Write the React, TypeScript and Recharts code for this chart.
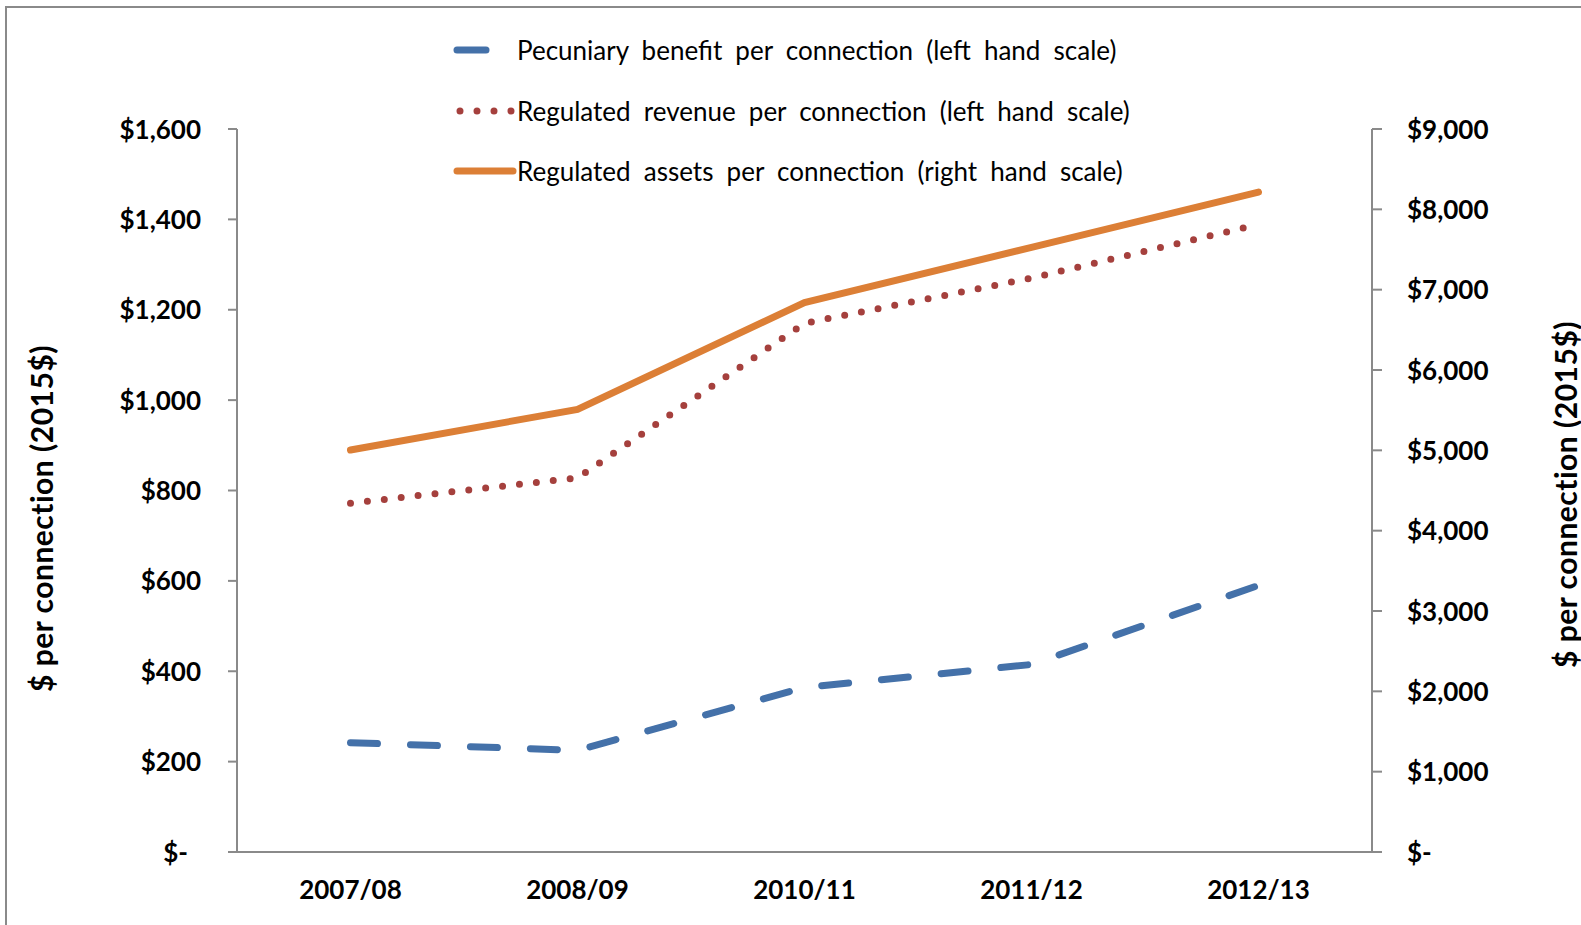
import { LineChart, Line, XAxis, YAxis } from "recharts";

const CATEGORIES = ["2007/08", "2008/09", "2010/11", "2011/12", "2012/13"];
const PECUNIARY = [242, 225, 364, 415, 590];
const REVENUE = [772, 828, 1170, 1270, 1389];
const ASSETS = [5004, 5510, 6839, 7527, 8215];

const LEFT_TICKS = [0, 200, 400, 600, 800, 1000, 1200, 1400, 1600];
const RIGHT_TICKS = [0, 1000, 2000, 3000, 4000, 5000, 6000, 7000, 8000, 9000];

const LEGEND_LABELS = [
  "Pecuniary benefit per connection (left hand scale)",
  "Regulated revenue per connection (left hand scale)",
  "Regulated assets per connection (right hand scale)",
];
const AXIS_TITLE = "$ per connection (2015$)";

const BLUE = "#4471a9";
const RED = "#a5403d";
const ORANGE = "#dc7f36";
const AXIS = "#8a8a8a";
const FONT = "Lato, 'Open Sans', sans-serif";

// boundary ticks like excel (between categories), labels sit in band centres
const BOUNDARY_TICKS = CATEGORIES.map((_, i) => i).concat(CATEGORIES.length);
const CENTER_TICKS = CATEGORIES.map((_, i) => i + 0.5);

const data = CATEGORIES.map((cat, i) => ({
  pos: i + 0.5,
  cat,
  pecuniary: PECUNIARY[i],
  revenue: REVENUE[i],
  assets: ASSETS[i],
}));

const money = (v: number) => (v === 0 ? "$-" : `$${v.toLocaleString("en-US")}`);

function LeftTick(props: any) {
  const { x, y, payload } = props;
  const v = payload.value as number;
  return (
    <text
      x={v === 0 ? x - 13 : x}
      y={y}
      dy={9.5}
      textAnchor="end"
      fill="#000"
      fontFamily={FONT}
      fontWeight={700}
      fontSize={26}
    >
      {money(v)}
    </text>
  );
}

function RightTick(props: any) {
  const { x, y, payload } = props;
  return (
    <text x={x} y={y} dy={9.5} textAnchor="start" fill="#000" fontFamily={FONT} fontWeight={700} fontSize={26}>
      {money(payload.value)}
    </text>
  );
}

function CatTick(props: any) {
  const { x, y, payload } = props;
  const label = CATEGORIES[Math.floor(payload.value)] ?? "";
  return (
    <text x={x} y={y} dy={46} textAnchor="middle" fill="#000" fontFamily={FONT} fontWeight={700} fontSize={26}>
      {label}
    </text>
  );
}

function axisTitle(dx: number, dy: number) {
  return (p: any) => {
    const vb = p.viewBox;
    const cx = vb.x + dx;
    const cy = vb.y + vb.height / 2 + dy;
    return (
      <text
        x={cx}
        y={cy}
        transform={`rotate(-90 ${cx} ${cy})`}
        textAnchor="middle"
        dominantBaseline="central"
        fill="#000"
        fontFamily={FONT}
        fontWeight={700}
        fontSize={30}
        letterSpacing={0.5}
      >
        {AXIS_TITLE}
      </text>
    );
  };
}

function LegendRow({ idx, top }: { idx: number; top: number }) {
  return (
    <div style={{ position: "absolute", left: 450, top: top - 16, height: 32, display: "flex", alignItems: "center" }}>
      <svg width={67} height={32} style={{ display: "block" }}>
        {idx === 0 && (
          <line x1={7} y1={16} x2={36} y2={16} stroke={BLUE} strokeWidth={7} strokeLinecap="round" />
        )}
        {idx === 1 && (
          <line
            x1={10}
            y1={16}
            x2={62}
            y2={16}
            stroke={RED}
            strokeWidth={7}
            strokeLinecap="round"
            strokeDasharray="0 17"
          />
        )}
        {idx === 2 && (
          <line x1={7} y1={16} x2={63} y2={16} stroke={ORANGE} strokeWidth={7} strokeLinecap="round" />
        )}
      </svg>
      <span
        style={{
          fontFamily: FONT,
          fontSize: 26,
          wordSpacing: 6.5,
          color: "#000",
          whiteSpace: "nowrap",
          lineHeight: "32px",
        }}
      >
        {LEGEND_LABELS[idx]}
      </span>
    </div>
  );
}

export default function App() {
  return (
    <div
      style={{
        position: "absolute",
        left: 0,
        top: 0,
        width: 1581,
        height: 925,
        overflow: "hidden",
        background: "#fff",
      }}
    >
      <div
        style={{
          position: "absolute",
          left: 5,
          top: 6,
          width: 2000,
          height: 2000,
          border: `2px solid ${AXIS}`,
        }}
      />
      <div style={{ position: "absolute", left: 0, top: 0 }}>
        <LineChart width={1581} height={925} data={data} margin={{ top: 129, right: 0, bottom: 0, left: 0 }}>
          <XAxis
            xAxisId="bounds"
            type="number"
            dataKey="pos"
            domain={[0, CATEGORIES.length]}
            ticks={BOUNDARY_TICKS}
            interval={0}
            height={1}
            tick={false}
            tickSize={9}
            axisLine={{ stroke: AXIS, strokeWidth: 2 }}
            tickLine={{ stroke: AXIS, strokeWidth: 2 }}
          />
          <XAxis
            xAxisId="labels"
            type="number"
            dataKey="pos"
            domain={[0, CATEGORIES.length]}
            ticks={CENTER_TICKS}
            interval={0}
            height={72}
            tickSize={0}
            tickMargin={0}
            axisLine={false}
            tickLine={false}
            tick={<CatTick />}
          />
          <YAxis
            yAxisId="left"
            width={237}
            domain={[0, 1600]}
            ticks={LEFT_TICKS}
            interval={0}
            tickSize={9}
            tickMargin={27}
            axisLine={{ stroke: AXIS, strokeWidth: 2 }}
            tickLine={{ stroke: AXIS, strokeWidth: 2 }}
            tick={<LeftTick />}
            label={{ content: axisTitle(41, 28) }}
          />
          <YAxis
            yAxisId="right"
            orientation="right"
            width={209}
            domain={[0, 9000]}
            ticks={RIGHT_TICKS}
            interval={0}
            tickSize={10}
            tickMargin={25}
            axisLine={{ stroke: AXIS, strokeWidth: 2 }}
            tickLine={{ stroke: AXIS, strokeWidth: 2 }}
            tick={<RightTick />}
            label={{ content: axisTitle(193, 4) }}
          />
          <Line
            xAxisId="bounds"
            yAxisId="right"
            type="linear"
            dataKey="assets"
            stroke={ORANGE}
            strokeWidth={7}
            strokeLinecap="round"
            dot={false}
            activeDot={false}
            isAnimationActive={false}
          />
          <Line
            xAxisId="bounds"
            yAxisId="left"
            type="linear"
            dataKey="revenue"
            stroke={RED}
            strokeWidth={7}
            strokeLinecap="round"
            strokeDasharray="0 17"
            dot={false}
            activeDot={false}
            isAnimationActive={false}
          />
          <Line
            xAxisId="bounds"
            yAxisId="left"
            type="linear"
            dataKey="pecuniary"
            stroke={BLUE}
            strokeWidth={7}
            strokeLinecap="round"
            strokeDasharray="27 33"
            dot={false}
            activeDot={false}
            isAnimationActive={false}
          />
        </LineChart>
      </div>
      <LegendRow idx={0} top={50} />
      <LegendRow idx={1} top={111} />
      <LegendRow idx={2} top={171} />
    </div>
  );
}
